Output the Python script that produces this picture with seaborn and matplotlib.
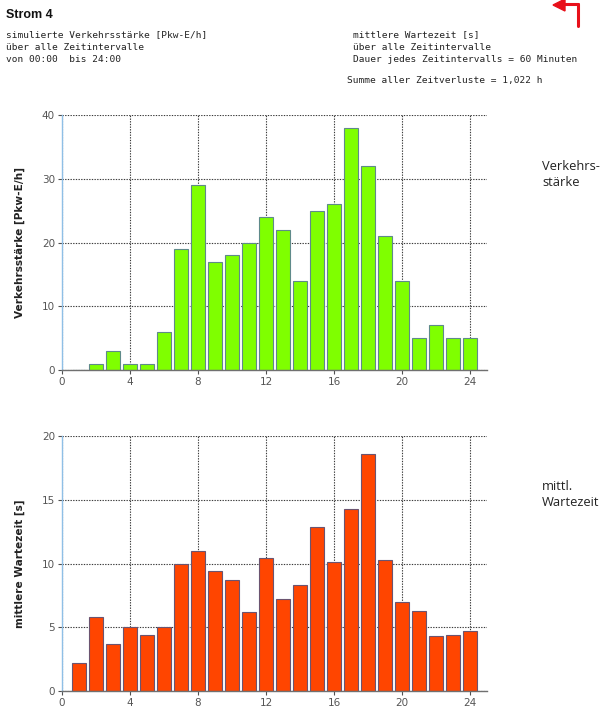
import matplotlib
matplotlib.use("Agg")
import matplotlib.pyplot as plt
import seaborn as sns
import pandas as pd

# Hourly intervals (end hour of each 60-minute interval)
hours = list(range(1, 25))
# Simulated traffic volume per interval [Pkw-E/h]
volume = [0, 1, 3, 1, 1, 6, 19, 29, 17, 18, 20, 24, 22, 14, 25, 26, 38, 32, 21, 14, 5, 7, 5, 5]
# Mean waiting time per interval [s]
wait = [2.2, 5.8, 3.7, 5.0, 4.4, 5.0, 10.0, 11.0, 9.4, 8.7, 6.2, 10.4, 7.2, 8.3,
        12.9, 10.1, 14.3, 18.6, 10.3, 7.0, 6.3, 4.3, 4.4, 4.7]
x_ticks = [0, 4, 8, 12, 16, 20, 24]

df = pd.DataFrame({"Stunde": hours, "Verkehrsstaerke": volume, "Wartezeit": wait})

sns.set_theme(style="white")
plt.rcParams["font.family"] = ["DejaVu Sans"]

fig = plt.figure(figsize=(6.06, 7.11), dpi=100)
ax_top = fig.add_axes([62 / 606, 1 - 370 / 711, 425 / 606, 255 / 711])
ax_bot = fig.add_axes([62 / 606, 1 - 691 / 711, 425 / 606, 255 / 711])


def style_axis(ax, ymax, ystep, ylabel):
    ax.set_xlim(0, 25)
    ax.set_ylim(0, ymax)
    ax.set_xticks(x_ticks)
    ax.set_xticklabels([str(t) for t in x_ticks])
    ax.set_yticks(range(0, ymax + 1, ystep))
    ax.set_axisbelow(True)
    ax.grid(True, color="#3a3a3a", linestyle=(0, (1.2, 1.2)), linewidth=0.8)
    for side in ("top", "right"):
        ax.spines[side].set_visible(False)
    ax.spines["left"].set_color("#8fbfe6")
    ax.spines["left"].set_linewidth(1.0)
    ax.spines["bottom"].set_color("#707070")
    ax.spines["bottom"].set_linewidth(1.0)
    ax.tick_params(axis="both", which="both", direction="out", length=3, width=0.8,
                   color="#505050", labelcolor="#555555", labelsize=7.5, pad=2,
                   bottom=True, left=True)
    ax.set_xlabel("")
    ax.set_ylabel(ylabel, fontsize=7.6, fontweight="bold", color="#222222", labelpad=12)


sns.barplot(data=df, x="Stunde", y="Verkehrsstaerke", native_scale=True, width=0.82,
            color="#7fff00", saturation=1, edgecolor="#5f8a8a", linewidth=0.8, ax=ax_top)
style_axis(ax_top, 40, 10, "Verkehrsstärke [Pkw-E/h]")

sns.barplot(data=df, x="Stunde", y="Wartezeit", native_scale=True, width=0.82,
            color="#ff4500", saturation=1, edgecolor="#6b5470", linewidth=0.8, ax=ax_bot)
style_axis(ax_bot, 20, 5, "mittlere Wartezeit [s]")

# Header texts
fig.text(6 / 606, 1 - 15 / 711, "Strom 4", fontsize=9, fontweight="bold",
         family="Liberation Sans", va="center", ha="left", color="#111111")
mono = dict(family="DejaVu Sans Mono", fontsize=6.8, va="center", ha="left", color="#222222")
left_lines = ["simulierte Verkehrsstärke [Pkw-E/h]", "über alle Zeitintervalle", "von 00:00  bis 24:00"]
right_lines = ["mittlere Wartezeit [s]", "über alle Zeitintervalle", "Dauer jedes Zeitintervalls = 60 Minuten"]
for i, (l, r) in enumerate(zip(left_lines, right_lines)):
    y = 1 - (35 + i * 12) / 711
    fig.text(6 / 606, y, l, **mono)
    fig.text(353 / 606, y, r, **mono)
fig.text(347 / 606, 1 - 81 / 711, "Summe aller Zeitverluste = 1,022 h", **mono)

# Side captions
side = dict(family="Open Sans", fontsize=9.3, va="center", ha="left", color="#222222")
fig.text(542 / 606, 1 - 167 / 711, "Verkehrs-", **side)
fig.text(542 / 606, 1 - 183 / 711, "stärke", **side)
fig.text(542 / 606, 1 - 486 / 711, "mittl.", **side)
fig.text(542 / 606, 1 - 502 / 711, "Wartezeit", **side)

# Red return arrow in the top-right corner
fig.add_artist(plt.Line2D([577.5 / 606, 577.5 / 606], [1 - 26 / 711, 1 - 4 / 711],
                          transform=fig.transFigure, color="#e8101a", linewidth=2.2))
fig.add_artist(plt.Line2D([577.5 / 606, 564 / 606], [1 - 4 / 711, 1 - 4 / 711],
                          transform=fig.transFigure, color="#e8101a", linewidth=2.2))
fig.add_artist(matplotlib.patches.Polygon(
    [[553 / 606, 1 - 5 / 711], [565 / 606, 1 + 1 / 711], [565 / 606, 1 - 11 / 711]],
    closed=True, transform=fig.transFigure, color="#e8101a"))

fig.savefig("out.png", dpi=100)
